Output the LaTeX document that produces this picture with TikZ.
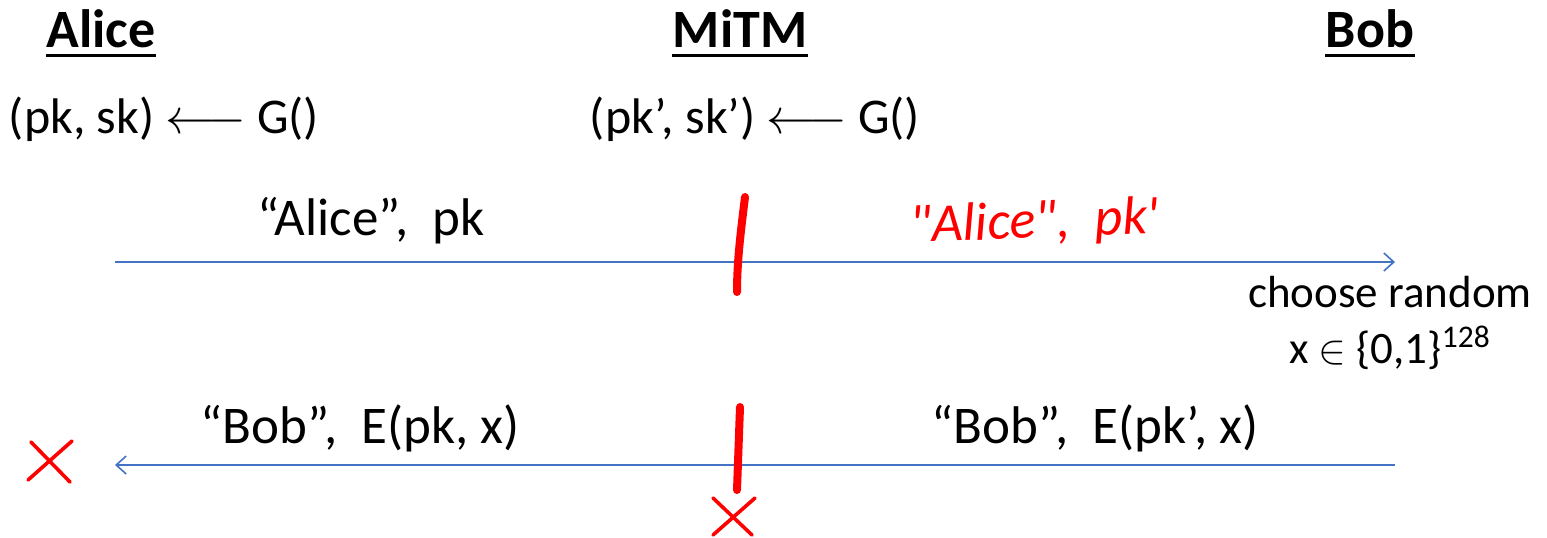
\documentclass[tikz,border=0pt]{standalone}
\usepackage{fontspec}
\setmainfont{Carlito}
\usetikzlibrary{arrows.meta}
\definecolor{msgblue}{RGB}{68,114,196}
\definecolor{inkred}{RGB}{255,0,0}

\begin{document}
\begin{tikzpicture}[x=0.5pt, y=-0.5pt,
  party/.style={font=\fontsize{27}{32}\selectfont\bfseries, inner sep=0pt, anchor=base},
  keygen/.style={font=\fontsize{25}{30}\selectfont, inner sep=0pt, anchor=base},
  msg/.style={font=\fontsize{26.5}{32}\selectfont, inner sep=0pt, anchor=base},
  scrawl/.style={font=\fontsize{27}{32}\selectfont\itshape, text=inkred, inner sep=0pt, anchor=base},
  note/.style={font=\fontsize{22.5}{28}\selectfont, align=center, inner sep=0pt, anchor=base},
  rule/.style={line width=1.5pt},
  ink/.style={inkred, line width=4pt, line cap=round},
  cross/.style={inkred, line width=1.8pt, line cap=round},
  wire/.style={msgblue, line width=0.8pt, -{Straight Barb[length=5pt, width=9pt]}}]
\useasboundingbox (0,0) rectangle (1547,537);

% parties
\node[party] (alice) at (101,47) {Alice};
\node[party] (mitm) at (740,47) {MiTM};
\node[party] (bob) at (1370,47) {Bob};
\foreach \p in {alice,mitm,bob}
  \draw[rule] ([yshift=-4pt]\p.base west) -- ([yshift=-4pt]\p.base east);

% key generation
\node[keygen] (genA) at (164,133) {(pk, sk) $\longleftarrow$ G()};
\node[keygen] (genM) at (755,133) {(pk’, sk’) $\longleftarrow$ G()};

% first message
\coordinate (aliceT) at (115,262);
\coordinate (bobT) at (1395,262);
\draw[wire] (aliceT) -- (bobT);
\node[msg] (m1) at (371,235) {“Alice”,\ \ pk};
\node[scrawl, rotate=2] (m1fake) at (1035,238) {\textquotedbl Alice\textquotedbl,\ \ pk\textquotesingle};
\node[note] (pick) at (1390,363) {choose random\\x $\in$ \{0,1\}\textsuperscript{128}};

% second message
\coordinate (bobB) at (1395,465);
\coordinate (aliceB) at (115,465);
\draw[wire] (bobB) -- (aliceB);
\node[msg] (m2) at (360,443) {“Bob”,\ \ E(pk, x)};
\node[msg] (m2fake) at (1095,443) {“Bob”,\ \ E(pk’, x)};

% attacker marks
\draw[ink] (745,197) .. controls (741,230) and (737,260) .. (737,292);
\draw[ink] (740,407) -- (737,490);
\draw[cross] (31,442) -- (70,482);
\draw[cross] (72,441) -- (28,480);
\draw[cross] (713,498) -- (752,535);
\draw[cross] (755,498) -- (713,535);
\end{tikzpicture}
\end{document}
